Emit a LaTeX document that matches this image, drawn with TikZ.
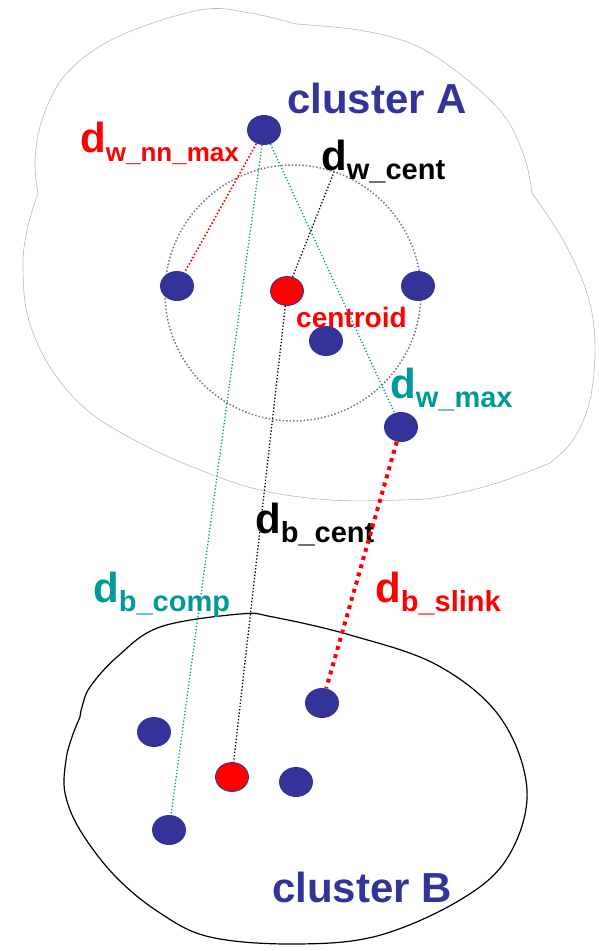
\documentclass[tikz,border=0pt]{standalone}
\usepackage{fontspec}
\setmainfont{Liberation Sans}
\usetikzlibrary{shapes.geometric}
\definecolor{clustercol}{RGB}{51,51,153}
\definecolor{tealcol}{RGB}{0,153,153}
\definecolor{redcol}{RGB}{255,0,0}
\definecolor{rimcol}{RGB}{185,185,185}
\definecolor{ringcol}{RGB}{120,120,120}
\tikzset{
  point/.style={ellipse,fill=clustercol,minimum width=34pt,minimum height=30pt,inner sep=0pt},
  centre/.style={ellipse,draw=clustercol,line width=0.8pt,fill=redcol,minimum width=33pt,
    minimum height=29pt,inner sep=0pt},
  lbl/.style={inner sep=0pt,anchor=base west,font=\bfseries},
  dist/.style={dotted,line width=1.3pt},
  slink/.style={redcol,line width=4pt,dash pattern=on 4pt off 4.5pt},
  ring/.style={ringcol,line width=1.5pt,dash pattern=on 1.5pt off 2pt}
}
\newcommand{\dlab}[2][29]{{\fontsize{42}{42}\selectfont d}\raisebox{-9pt}{\fontsize{#1}{#1}\selectfont #2}}

\begin{document}
\begin{tikzpicture}[x=1pt,y=-1pt]
  \useasboundingbox (0,0) rectangle (599,951);
  % cluster outlines
  \draw[rimcol,line width=0.6pt]
    plot[smooth,tension=0.6] coordinates {(38,193) (35,160) (43,117) (67,73) (117,37) (200,10) (250,13) (296,24)}
    -- plot[smooth,tension=0.6] coordinates {(296,24) (370,32) (430,53) (497,107) (523,153) (532,193)}
    -- plot[smooth,tension=0.6] coordinates {(532,193) (563,240) (587,293) (595,343) (590,400) (573,440) (550,463)}
    -- plot[smooth,tension=0.6] coordinates {(550,463) (497,483) (440,497) (400,500) (330,500) (260,490)
      (200,470) (140,443) (87,410) (50,367) (28,317) (23,267) (27,230) (38,193)};
  \draw[black,line width=1.2pt]
    plot[smooth,tension=0.6] coordinates {(80,717) (82,707) (90,687) (117,657) (160,627) (240,614)
      (273,617) (350,635) (437,665) (500,717) (527,790) (508,857) (460,900)
      (377,936) (293,944) (210,937) (160,913) (115,876) (80,830) (65,793) (66,760) (72,737) (80,717)};
  \draw[ring] (293,293) circle (128);

  % cluster A
  \node[point] (tA) at (264,130) {};
  \node[point] (lA) at (177,286) {};
  \node[centre] (cA) at (287,291) {};
  \node[point] (rA) at (418,286) {};
  \node[point] (mA) at (326,341) {};
  \node[point] (fA) at (401,427) {};
  % cluster B
  \node[point] (nB) at (322,703) {};
  \node[point] (lB) at (154,732) {};
  \node[centre] (cB) at (232,777) {};
  \node[point] (mB) at (296,782) {};
  \node[point] (fB) at (169,830) {};

  % labels
  \node[lbl,text=clustercol,font=\bfseries\fontsize{42}{42}\selectfont] (nameA) at (287,113) {cluster A};
  \node[lbl,text=clustercol,font=\bfseries\fontsize{42}{42}\selectfont] (nameB) at (272,902) {cluster B};
  \node[lbl,text=redcol,font=\bfseries\fontsize{28}{28}\selectfont] (cent) at (296,327) {centroid};
  \node[lbl,text=redcol] (wnn) at (80,152) {\dlab[26]{w\_nn\_max}};
  \node[lbl,text=black] (wcent) at (321,170) {\dlab{w\_cent}};
  \node[lbl,text=tealcol] (wmax) at (390,398) {\dlab{w\_max}};
  \node[lbl,text=black] (bcent) at (255,533) {\dlab{b\_cent}};
  \node[lbl,text=tealcol] (bcomp) at (93,602) {\dlab{b\_comp}};
  \node[lbl,text=redcol] (bslink) at (375,602) {\dlab{b\_slink}};
  \coordinate (wcentend) at (334,172);

  % distances
  \draw[dist,redcol,line width=1.6pt] (tA)--(lA);
  \draw[dist,tealcol] (tA)--(fA);
  \draw[dist,tealcol] (tA)--(fB);
  \draw[dist,black] (cA)--(wcentend);
  \draw[dist,black] (cA)--(cB);
  \draw[slink] (fA)--(nB);
\end{tikzpicture}
\end{document}
